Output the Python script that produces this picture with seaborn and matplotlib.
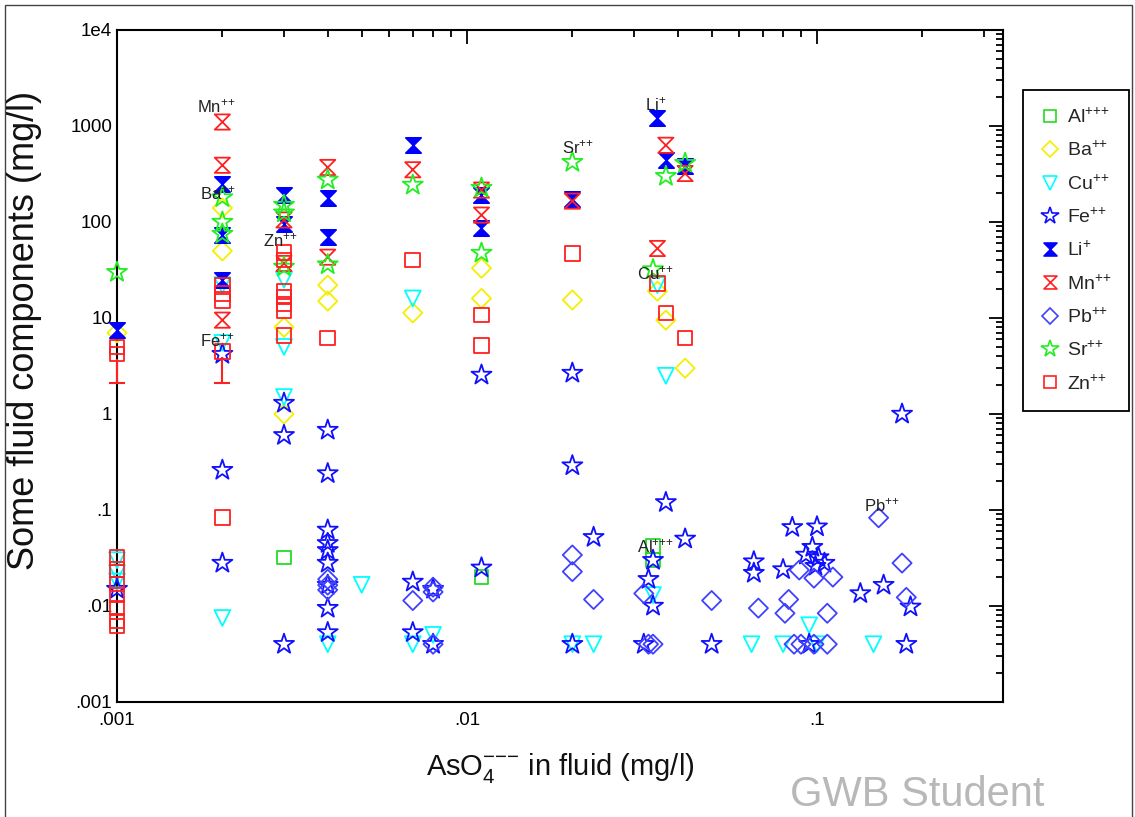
import numpy as np
import pandas as pd
import matplotlib
matplotlib.use("Agg")
import matplotlib.pyplot as plt
import seaborn as sns
from matplotlib.path import Path
from matplotlib.lines import Line2D
from matplotlib.patches import Rectangle
from matplotlib.ticker import FixedLocator, FuncFormatter, NullFormatter

# ---------------- data ----------------
species = ["Al", "Ba", "Cu", "Fe", "Li", "Mn", "Pb", "Sr", "Zn"]
charges = ["+++", "++", "++", "++", "+", "++", "++", "++", "++"]

al_x = [0.003, 0.011, 0.034, 0.034]
al_y = [0.032, 0.020, 0.042, 0.030]

ba_x = [0.001, 0.002, 0.002, 0.003, 0.003, 0.004, 0.004, 0.007, 0.011, 0.011,
        0.020, 0.035, 0.037, 0.042]
ba_y = [7.0, 140, 50, 8.0, 1.0, 22, 15, 11.3, 33, 16, 15.4, 19, 9.5, 3.0]

cu_x = [0.001, 0.001, 0.001, 0.002, 0.002, 0.002, 0.003, 0.003, 0.003, 0.004,
        0.005, 0.007, 0.007, 0.008, 0.020, 0.023, 0.034, 0.035, 0.037, 0.065,
        0.080, 0.095, 0.100, 0.145]
cu_y = [0.030, 0.022, 0.018, 22, 5.5, 0.0075, 25, 5.0, 1.5, 0.004,
        0.0166, 16, 0.004, 0.005, 0.004, 0.004, 0.013, 22, 2.5, 0.004,
        0.004, 0.0063, 0.004, 0.004]

fe_x = [0.001, 0.002, 0.002, 0.002, 0.003, 0.003, 0.003,
        0.004, 0.004, 0.004, 0.004, 0.004, 0.004, 0.004, 0.004, 0.004,
        0.007, 0.007, 0.008, 0.008, 0.011, 0.011, 0.020, 0.020, 0.020, 0.023,
        0.032, 0.033, 0.034, 0.034, 0.037, 0.042, 0.050, 0.066, 0.066, 0.080,
        0.085, 0.100, 0.097, 0.093, 0.101, 0.105, 0.099, 0.095,
        0.133, 0.155, 0.175, 0.185, 0.180]
fe_y = [0.015, 4.2, 0.26, 0.028, 1.3, 0.6, 0.004,
        0.68, 0.24, 0.062, 0.045, 0.038, 0.028, 0.0165, 0.0095, 0.0053,
        0.0178, 0.0053, 0.015, 0.004, 2.55, 0.025, 2.67, 0.29, 0.004, 0.052,
        0.004, 0.019, 0.030, 0.010, 0.12, 0.050, 0.004, 0.029, 0.022, 0.024,
        0.066, 0.067, 0.041, 0.034, 0.032, 0.028, 0.026, 0.004,
        0.0135, 0.0165, 1.0, 0.0098, 0.004]

li_x = [0.001, 0.002, 0.002, 0.002, 0.003, 0.003, 0.004, 0.004, 0.007,
        0.011, 0.011, 0.020, 0.035, 0.037, 0.042]
li_y = [7.5, 250, 73, 25, 190, 95, 178, 70, 630, 190, 87, 175, 1200, 440, 380]

mn_x = [0.002, 0.002, 0.002, 0.003, 0.003, 0.004, 0.004, 0.007, 0.011, 0.011,
        0.020, 0.035, 0.037, 0.042]
mn_y = [1100, 390, 9.5, 105, 37, 370, 43, 350, 215, 118, 165, 53, 630, 320]

pb_x = [0.004, 0.004, 0.004, 0.007, 0.008, 0.008, 0.008, 0.020, 0.020, 0.023,
        0.032, 0.033, 0.034, 0.050, 0.068, 0.083, 0.081, 0.089, 0.098, 0.111,
        0.107, 0.086, 0.090, 0.098, 0.107, 0.150, 0.175, 0.180]
pb_y = [0.019, 0.0165, 0.0147, 0.0114, 0.0157, 0.014, 0.004, 0.034, 0.0228,
        0.0117, 0.0135, 0.004, 0.004, 0.0114, 0.0095, 0.0117, 0.0084, 0.0237,
        0.0195, 0.020, 0.0084, 0.004, 0.004, 0.004, 0.004, 0.083, 0.028, 0.0123]

sr_x = [0.001, 0.002, 0.002, 0.002, 0.003, 0.003, 0.003, 0.004, 0.004, 0.007,
        0.011, 0.011, 0.020, 0.034, 0.037, 0.042]
sr_y = [30, 180, 100, 75, 150, 125, 34, 275, 36, 243, 226, 47.5, 420, 32, 300, 410]

zn_x = [0.001, 0.001, 0.001, 0.001, 0.001, 0.001, 0.001, 0.001, 0.001,
        0.002, 0.002, 0.002, 0.002, 0.002,
        0.003, 0.003, 0.003, 0.003, 0.003, 0.003, 0.003,
        0.004, 0.007, 0.011, 0.011, 0.020, 0.035, 0.037, 0.042]
zn_y = [5.0, 4.2, 0.032, 0.024, 0.017, 0.013, 0.0095, 0.007, 0.0062,
        22, 18, 15, 4.5, 0.083,
        48, 40, 19, 16.5, 14, 12, 6.6,
        6.2, 40, 10.7, 5.2, 47, 23, 11.3, 6.2]

# Zn error bars (lower bounds)
zn_err_x = [0.001, 0.002]
zn_err_y = [4.2, 4.5]
zn_err_lo = [2.1, 2.1]

# in-plot species labels
lab_text = ["Mn", "Ba", "Zn", "Fe", "Sr", "Li", "Cu", "Al", "Pb"]
lab_charge = ["++", "++", "++", "++", "++", "+", "++", "+++", "++"]
lab_x = [0.00169, 0.00173, 0.00261, 0.00173, 0.0187, 0.0323, 0.0306, 0.0306, 0.136]
lab_y = [1615, 200, 65, 5.9, 605, 1695, 29.4, 0.042, 0.113]

x_ticks = [0.001, 0.01, 0.1]
x_ticklabels = [".001", ".01", ".1"]
y_ticks = [0.001, 0.01, 0.1, 1, 10, 100, 1000, 10000]
y_ticklabels = [".001", ".01", ".1", "1", "10", "100", "1000", "1e4"]


def sup(ch):
    # charge as a tight superscript
    return r"$^{" + "".join("{" + c + "}" for c in ch) + "}$"


# ---------------- style ----------------
sns.set_theme(style="white")
plt.rcParams["font.family"] = ["Liberation Sans", "DejaVu Sans"]
plt.rcParams["mathtext.fontset"] = "custom"
plt.rcParams["mathtext.rm"] = "Liberation Sans"
plt.rcParams["mathtext.it"] = "Liberation Sans"
plt.rcParams["mathtext.bf"] = "Liberation Sans:bold"

hourglass = Path([(-1, 1), (1, 1), (-1, -1), (1, -1), (-1, 1)],
                 [Path.MOVETO, Path.LINETO, Path.LINETO, Path.LINETO, Path.CLOSEPOLY])

style = {
    "Al": dict(marker="s", color="#22dd22", fill=False, s=95),
    "Ba": dict(marker="D", color="#f2f000", fill=False, s=95),
    "Cu": dict(marker="v", color="#00ffff", fill=False, s=130),
    "Fe": dict(marker="*", color="#1010ff", fill=False, s=230),
    "Li": dict(marker=hourglass, color="#0000ff", fill=True, s=120),
    "Mn": dict(marker=hourglass, color="#ff2020", fill=False, s=120),
    "Pb": dict(marker="D", color="#4040ff", fill=False, s=95),
    "Sr": dict(marker="*", color="#22ee22", fill=False, s=230),
    "Zn": dict(marker="s", color="#ff2020", fill=False, s=110),
}

data = {
    "Al": (al_x, al_y), "Ba": (ba_x, ba_y), "Cu": (cu_x, cu_y),
    "Fe": (fe_x, fe_y), "Li": (li_x, li_y), "Mn": (mn_x, mn_y),
    "Pb": (pb_x, pb_y), "Sr": (sr_x, sr_y), "Zn": (zn_x, zn_y),
}

W, H = 1135, 817
fig = plt.figure(figsize=(W / 100, H / 100), dpi=100)
ax = fig.add_axes([117 / W, 1 - 702 / H, (1003 - 117) / W, (702 - 30) / H])

for sp in species:
    xs, ys = data[sp]
    st = style[sp]
    df = pd.DataFrame({"x": xs, "y": ys})
    sns.scatterplot(data=df, x="x", y="y", ax=ax, marker=st["marker"], s=st["s"],
                    color=st["color"],
                    facecolors=st["color"] if st["fill"] else "none",
                    edgecolor=st["color"], linewidth=1.3, legend=False,
                    zorder=3, clip_on=False)

# error bars
for ex, ey, elo in zip(zn_err_x, zn_err_y, zn_err_lo):
    ax.vlines(ex, elo, ey * 0.88, color="#ff2020", lw=1.5, zorder=3, clip_on=False)
    ax.plot([ex], [elo], marker="_", ms=11, mew=1.5, color="#ff2020", zorder=3,
            clip_on=False)

# labels
for t, c, lx, ly in zip(lab_text, lab_charge, lab_x, lab_y):
    ax.text(lx, ly, t + sup(c), fontsize=12, color="#222222",
            ha="left", va="center", zorder=5)

ax.set_xscale("log")
ax.set_yscale("log")
ax.set_xlim(0.001, 0.34)
ax.set_ylim(0.001, 10000)

ax.xaxis.set_major_locator(FixedLocator(x_ticks))
ax.xaxis.set_major_formatter(FuncFormatter(lambda v, p: dict(zip(x_ticks, x_ticklabels)).get(v, "")))
xminor = [m * d for d in [0.001, 0.01, 0.1] for m in range(2, 10) if m * d <= 0.34]
ax.xaxis.set_minor_locator(FixedLocator(xminor))
ax.xaxis.set_minor_formatter(NullFormatter())

ax.yaxis.set_major_locator(FixedLocator(y_ticks))
ax.yaxis.set_major_formatter(FuncFormatter(lambda v, p: dict(zip(y_ticks, y_ticklabels)).get(v, "")))
yminor = [m * d for d in [0.001, 0.01, 0.1, 1, 10, 100, 1000] for m in range(2, 10)]
ax.yaxis.set_minor_locator(FixedLocator(yminor))
ax.yaxis.set_minor_formatter(NullFormatter())

ax.tick_params(which="both", direction="in", top=True, right=True, colors="black",
               labelsize=13.5, width=1.3)
ax.tick_params(axis="x", which="major", pad=7)
ax.tick_params(which="major", length=10)
ax.tick_params(which="minor", length=5)
for sp_ in ax.spines.values():
    sp_.set_color("black")
    sp_.set_linewidth(1.5)
ax.set_xlabel("")
ax.set_ylabel("")

fig.text(560 / W, 1 - 768 / H, r"AsO$_4^{{-}{-}{-}}$ in fluid (mg/l)", fontsize=21,
         ha="center", va="center", color="#111111")
fig.text(25 / W, 1 - 330 / H, "Some fluid components (mg/l)", fontsize=26,
         rotation=90, ha="center", va="center", color="#111111")
fig.text(790 / W, 1 - 795 / H, "GWB Student", fontsize=30, color="#b8b8b8",
         ha="left", va="center")

# legend
handles = []
labels = []
for sp, ch in zip(species, charges):
    st = style[sp]
    handles.append(Line2D([], [], ls="none", marker=st["marker"],
                          markersize=np.sqrt(st["s"]) * 0.85,
                          markerfacecolor=st["color"] if st["fill"] else "none",
                          markeredgecolor=st["color"], markeredgewidth=1.2))
    labels.append(sp + sup(ch))
leg = fig.legend(handles, labels, loc="upper left",
                 bbox_to_anchor=(1023 / W, 1 - 90 / H), fontsize=14,
                 frameon=True, fancybox=False, edgecolor="black", framealpha=1,
                 handletextpad=0.35, labelspacing=0.72, borderpad=0.9,
                 handlelength=1.0, borderaxespad=0)
leg.get_frame().set_linewidth(1.3)

fig.patches.append(Rectangle((5 / W, -0.05), (1132 - 5) / W, 1.05 - 5 / H,
                             transform=fig.transFigure, fill=False,
                             edgecolor="#444444", lw=1.0))

fig.savefig("out.png", dpi=100)
